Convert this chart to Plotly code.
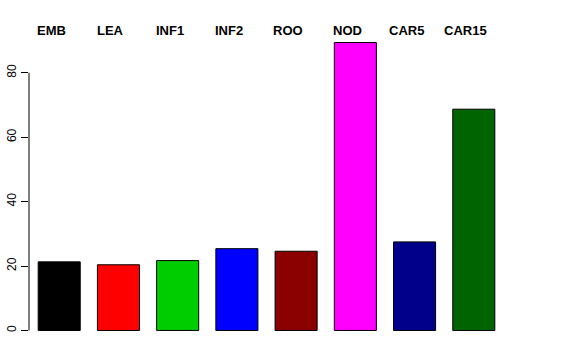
import plotly.graph_objects as go

categories = ["EMB", "LEA", "INF1", "INF2", "ROO", "NOD", "CAR5", "CAR15"]
values = [21.3, 20.4, 21.7, 25.4, 24.6, 89.4, 27.5, 68.7]
colors = ["#000000", "#FF0000", "#00CD00", "#0000FF", "#8B0000", "#FF00FF", "#00008B", "#006400"]
y_ticks = [0, 20, 40, 60, 80]

fig = go.Figure()
fig.add_trace(go.Bar(
    x=list(range(len(categories))),
    y=values,
    marker=dict(color=colors, line=dict(color="#000000", width=1)),
    width=0.71,
    hoverinfo="skip",
))

for i, c in enumerate(categories):
    fig.add_annotation(
        x=i, y=1, xref="x", yref="paper",
        text="<b>" + c + "</b>", showarrow=False,
        xanchor="center", yanchor="middle", xshift=-8, yshift=1,
        font=dict(family="Liberation Sans, Arial, sans-serif", size=13, color="#000000"),
    )

# R-style y axis line spanning only the tick range
fig.add_shape(type="line", xref="paper", yref="y",
              x0=0, x1=0, y0=y_ticks[0], y1=y_ticks[-1],
              line=dict(color="#000000", width=1))

fig.update_layout(
    width=576, height=360,
    margin=dict(l=29, r=72, t=31, b=17.5, autoexpand=False),
    paper_bgcolor="white", plot_bgcolor="white",
    showlegend=False,
    font=dict(family="Liberation Sans, Arial, sans-serif", size=11, color="#000000"),
    xaxis=dict(range=[-0.51, 7.51], showticklabels=False, showgrid=False,
               zeroline=False, showline=False, ticks="", automargin=False),
    yaxis=dict(range=[-3.58, 92.98], tickvals=y_ticks, ticktext=[str(v) for v in y_ticks],
               tickangle=-90, ticks="outside", ticklen=7, tickwidth=1, tickcolor="#000000",
               showgrid=False, zeroline=False, showline=False, automargin=False,
               tickfont=dict(size=12, family="Liberation Sans, Arial, sans-serif")),
)

fig.write_html("out.html", config={"displayModeBar": False},
               post_script="document.body.style.margin='0';")
